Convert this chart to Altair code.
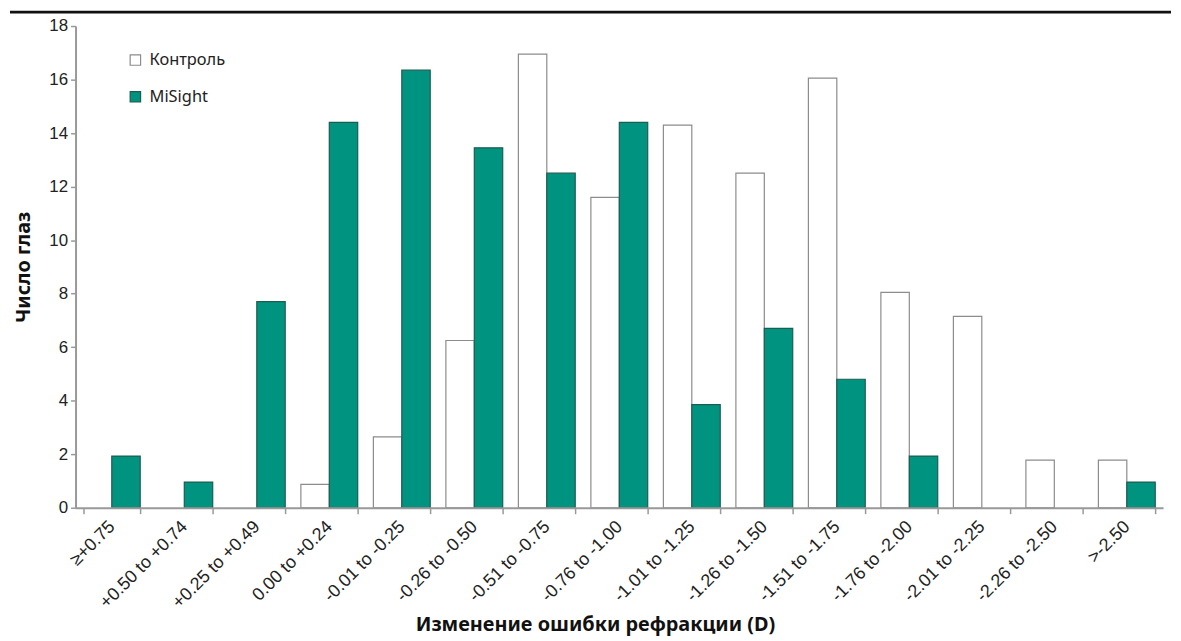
import altair as alt
import pandas as pd

categories = ["≥+0.75", "+0.50 to +0.74", "+0.25 to +0.49", "0.00 to +0.24",
              "-0.01 to -0.25", "-0.26 to -0.50", "-0.51 to -0.75", "-0.76 to -1.00",
              "-1.01 to -1.25", "-1.26 to -1.50", "-1.51 to -1.75", "-1.76 to -2.00",
              "-2.01 to -2.25", "-2.26 to -2.50", ">-2.50"]
control = [0, 0, 0, 0.87, 2.65, 6.25, 16.95, 11.6, 14.3, 12.5, 16.05, 8.05, 7.15, 1.78, 1.78]
misight = [1.93, 0.96, 7.7, 14.4, 16.35, 13.45, 12.5, 14.4, 3.85, 6.7, 4.8, 1.93, 0, 0, 0.96]
series = ["Контроль", "MiSight"]
y_ticks = [0, 2, 4, 6, 8, 10, 12, 14, 16, 18]

rows = []
for i, c in enumerate(categories):
    rows.append({"cat": c, "series": series[0], "value": control[i]})
    rows.append({"cat": c, "series": series[1], "value": misight[i]})
df = pd.DataFrame(rows)

W = 1095
H = 485

legend_cfg = dict(title=None, orient="none", legendX=52, legendY=26,
                  symbolType="square", symbolSize=110, symbolStrokeWidth=1.2,
                  labelFont="Noto Sans", labelFontSize=16.5, labelColor="#222",
                  rowPadding=20, labelOffset=6)

bars = alt.Chart(df).transform_filter("datum.value > 0").mark_bar(strokeWidth=1.2).encode(
    x=alt.X("cat:N", sort=categories, title="Изменение ошибки рефракции (D)",
            scale=alt.Scale(domain=categories, paddingInner=0.216, paddingOuter=0.108),
            axis=alt.Axis(labelAngle=-45, labelAlign="right", labelBaseline="middle",
                          labelPadding=10, labelFont="Liberation Sans", labelFontSize=18,
                          labelColor="#222", tickBand="extent", tickSize=6,
                          tickColor="#999", tickWidth=1.5, domainColor="#999",
                          domainWidth=2, titleFont="Noto Sans", titleFontSize=20,
                          titleFontWeight="bold", titleColor="#111", titlePadding=3,
                          titleX=523, titleAlign="center", zindex=1)),
    xOffset=alt.XOffset("series:N", sort=series,
                        scale=alt.Scale(domain=series, paddingInner=0)),
    y=alt.Y("value:Q", title="Число глаз",
            scale=alt.Scale(domain=[0, 18], nice=False),
            axis=alt.Axis(values=y_ticks, grid=False, labelFont="Liberation Sans",
                          labelFontSize=17, labelColor="#222", labelPadding=3,
                          tickSize=5, tickColor="#999", tickWidth=1.5,
                          domainColor="#999", domainWidth=2, titleFont="Noto Sans",
                          titleFontSize=20, titleFontWeight="bold", titleColor="#111",
                          titlePadding=15, zindex=1)),
    fill=alt.Fill("series:N", sort=series,
                  scale=alt.Scale(domain=series, range=["#ffffff", "#009480"]),
                  legend=alt.Legend(**legend_cfg)),
    stroke=alt.Stroke("series:N", sort=series,
                      scale=alt.Scale(domain=series, range=["#8c8c8c", "#1d5c50"]),
                      legend=alt.Legend(**legend_cfg)),
)

topline = alt.Chart(alt.Data(values=[{"a": 1}])).mark_rule(
    strokeWidth=3, color="#111").encode(
    y=alt.value(-14), x=alt.value(-66), x2=alt.value(W + 8))

chart = alt.layer(bars, topline).properties(
    width=W, height=H, padding=0
).configure_view(stroke=None).configure_axis(labelFlush=False)

chart.save("out.html", embed_options={"renderer": "svg", "actions": False})
